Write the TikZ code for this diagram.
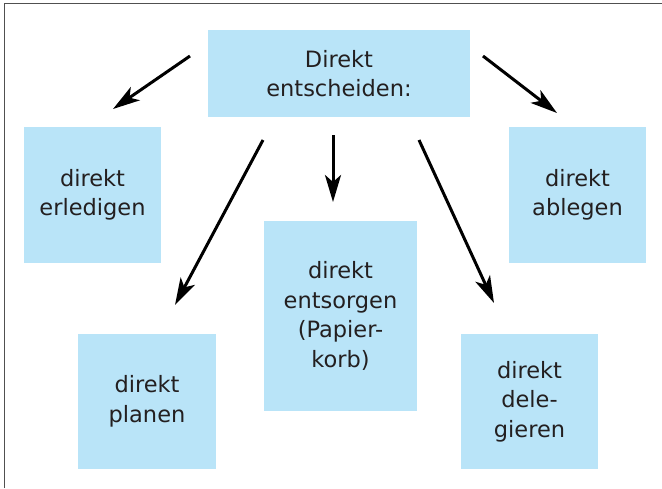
\documentclass[tikz,border=0pt]{standalone}
\usepackage{fontspec}
\setmainfont{DejaVu Sans}
\usetikzlibrary{arrows.meta}
\definecolor{boxblue}{RGB}{185,228,248}
\definecolor{ink}{RGB}{35,31,32}
\definecolor{framegray}{RGB}{80,80,80}
\begin{document}
\begin{tikzpicture}[x=1pt,y=-1pt,
  card/.style={fill=boxblue, draw=none, inner sep=0pt, align=center,
    text=ink, font=\fontsize{22.5}{29.5}\selectfont},
  arr/.style={line width=3pt, draw=black,
    -{Stealth[length=27pt,width=16pt,inset=7pt]}}]
  \useasboundingbox (0,0) rectangle (662,488);
  % frame along the left and top edges
  \draw[framegray, line width=1.5pt] (4.5,488) -- (4.5,3.5) -- (662,3.5);

  % boxes
  \node[card, minimum width=262pt, minimum height=87pt] (top) at (339,73.5) {Direkt\\entscheiden:};
  \node[card, minimum width=137pt, minimum height=136pt] (erl) at (92.5,195) {direkt\\erledigen};
  \node[card, minimum width=137pt, minimum height=136pt] (abl) at (577.5,195) {direkt\\ablegen};
  \node[card, minimum width=138pt, minimum height=135pt] (pla) at (147,401.5) {direkt\\planen};
  \node[card, minimum width=153pt, minimum height=190pt] (ents) at (340.5,316) {direkt\\entsorgen\\(Papier-\\korb)};
  \node[card, minimum width=137pt, minimum height=135pt] (dele) at (529.5,401.5) {direkt\\dele-\\gieren};

  % arrow ends
  \coordinate (s1) at (190,56);  \coordinate (e1) at (113,109);
  \coordinate (s2) at (483,56);  \coordinate (e2) at (557,113);
  \coordinate (s3) at (263,140); \coordinate (e3) at (175,305);
  \coordinate (s4) at (333,135); \coordinate (e4) at (333,202);
  \coordinate (s5) at (419,140); \coordinate (e5) at (494,303);

  \draw[arr] (s1) -- (e1);
  \draw[arr] (s2) -- (e2);
  \draw[arr] (s3) -- (e3);
  \draw[arr] (s4) -- (e4);
  \draw[arr] (s5) -- (e5);
\end{tikzpicture}
\end{document}
